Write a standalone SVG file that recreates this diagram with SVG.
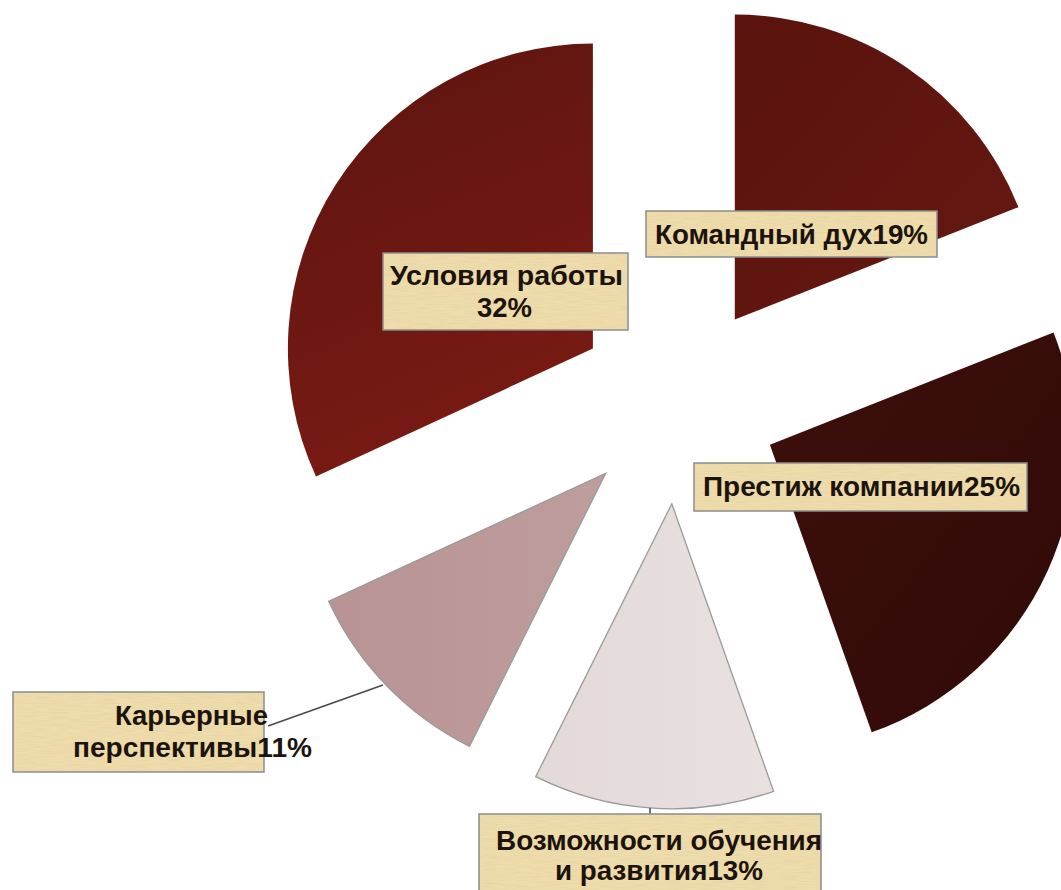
<svg xmlns="http://www.w3.org/2000/svg" width="1061" height="890" viewBox="0 0 1061 890">
  <defs>
    <linearGradient id="gUsl" x1="0" y1="0" x2="0.3" y2="1">
      <stop offset="0" stop-color="#5c140f"/>
      <stop offset="1" stop-color="#791a14"/>
    </linearGradient>
    <linearGradient id="gKom" x1="0" y1="0" x2="1" y2="1">
      <stop offset="0" stop-color="#5a130e"/>
      <stop offset="1" stop-color="#661812"/>
    </linearGradient>
    <linearGradient id="gPre" x1="0" y1="0" x2="1" y2="1">
      <stop offset="0" stop-color="#3d0f0b"/>
      <stop offset="1" stop-color="#300a08"/>
    </linearGradient>
    <linearGradient id="gKar" x1="0" y1="0" x2="1" y2="0">
      <stop offset="0" stop-color="#b99393"/>
      <stop offset="1" stop-color="#bf9d9d"/>
    </linearGradient>
    <linearGradient id="gVoz" x1="0" y1="0" x2="1" y2="0">
      <stop offset="0" stop-color="#e3d9d9"/>
      <stop offset="1" stop-color="#e9e0e0"/>
    </linearGradient>
    <filter id="grain" x="0" y="0" width="100%" height="100%">
      <feTurbulence type="fractalNoise" baseFrequency="0.06 0.9" numOctaves="2" seed="7"/>
      <feColorMatrix type="matrix" values="0 0 0 0 0.72  0 0 0 0 0.6  0 0 0 0 0.35  0.9 0 0 0 -0.35"/>
      <feComposite in2="SourceGraphic" operator="in"/>
    </filter>
  </defs>
  <style>
    .box { fill: #efdcab; stroke: #8c8c8c; stroke-width: 1.5; }
    .tex { fill: #fff; }
    .lbl { font-family: "Liberation Sans", Arial, sans-serif; font-weight: bold; font-size: 27px; fill: #1c140c; }
    .lead { stroke: #4a4a4a; stroke-width: 1.6; fill: none; }
    .light { stroke: #9a9a9a; stroke-width: 1.3; }
  </style>

  <rect width="1061" height="890" fill="#ffffff"/>

  <g id="slice-usloviya">
    <path d="M592.9,348.6 L316,476.5 A305,305 0 0 1 592.9,43.6 Z" fill="url(#gUsl)"/>
  </g>
  <g id="slice-komandny">
    <path d="M734.8,319.5 L734.8,14.5 A305,305 0 0 1 1018.4,207.2 Z" fill="url(#gKom)"/>
  </g>
  <g id="slice-prestizh">
    <path d="M769.9,444.8 L1053.5,332.5 A305,305 0 0 1 871.7,732.3 Z" fill="url(#gPre)"/>
  </g>
  <g id="slice-vozmozhnosti">
    <path d="M671.8,503.8 L773.6,791.3 A305,305 0 0 1 535.7,776.7 Z" fill="url(#gVoz)" class="light"/>
  </g>
  <g id="slice-karernye">
    <path d="M605.6,473.4 L469.5,746.3 A305,305 0 0 1 328.7,601.3 Z" fill="url(#gKar)" class="light"/>
  </g>

  <g id="connectors">
    <line class="lead" x1="383" y1="685" x2="268" y2="726"/>
    <line class="lead" x1="650" y1="808" x2="650" y2="814"/>
  </g>

  <g id="label-usloviya">
    <rect class="box" x="383" y="253" width="245" height="77"/>
    <rect class="tex" x="384" y="254" width="243" height="75" filter="url(#grain)"/>
    <text class="lbl" x="390" y="285" textLength="233" lengthAdjust="spacingAndGlyphs">Условия работы</text>
    <text class="lbl" x="477" y="317" textLength="55" lengthAdjust="spacingAndGlyphs">32%</text>
  </g>
  <g id="label-komandny">
    <rect class="box" x="646" y="211" width="291" height="46"/>
    <rect class="tex" x="647" y="212" width="289" height="44" filter="url(#grain)"/>
    <text class="lbl" x="655" y="244" textLength="273" lengthAdjust="spacingAndGlyphs">Командный дух19%</text>
  </g>
  <g id="label-prestizh">
    <rect class="box" x="694" y="463" width="333" height="48"/>
    <rect class="tex" x="695" y="464" width="331" height="46" filter="url(#grain)"/>
    <text class="lbl" x="703" y="496" textLength="317" lengthAdjust="spacingAndGlyphs">Престиж компании25%</text>
  </g>
  <g id="label-karernye">
    <rect class="box" x="13" y="692" width="251" height="80"/>
    <rect class="tex" x="14" y="693" width="249" height="78" filter="url(#grain)"/>
    <text class="lbl" x="115" y="725" textLength="153" lengthAdjust="spacingAndGlyphs">Карьерные</text>
    <text class="lbl" x="73" y="757" textLength="239" lengthAdjust="spacingAndGlyphs">перспективы11%</text>
  </g>
  <g id="label-vozmozhnosti">
    <rect class="box" x="479" y="814" width="342" height="82"/>
    <rect class="tex" x="480" y="815" width="340" height="80" filter="url(#grain)"/>
    <text class="lbl" x="496" y="850" textLength="326" lengthAdjust="spacingAndGlyphs">Возможности обучения</text>
    <text class="lbl" x="555" y="880" textLength="208" lengthAdjust="spacingAndGlyphs">и развития13%</text>
  </g>
</svg>
